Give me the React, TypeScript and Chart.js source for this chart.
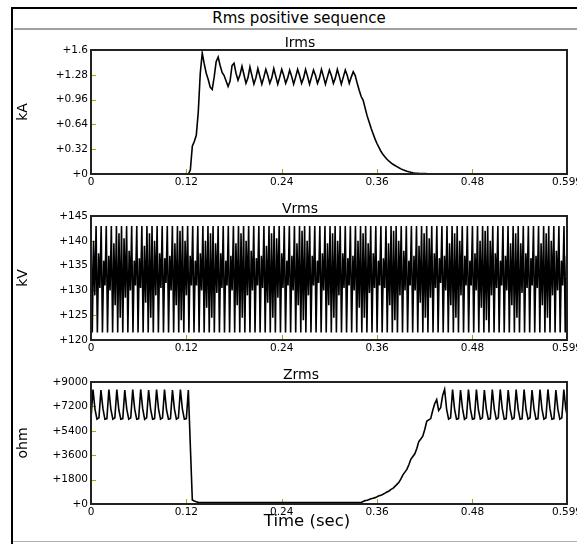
import React, { useEffect, useRef } from "react";
import { Chart, registerables } from "chart.js";

Chart.register(...registerables);

const FONT = "'DejaVu Sans', sans-serif";

// ---- axes ----
const xTickValues = [0, 0.12, 0.24, 0.36, 0.48, 0.599];
const xTickLabels = ["0", "0.12", "0.24", "0.36", "0.48", "0.599"];
const irmsTicks = [0, 0.32, 0.64, 0.96, 1.28, 1.6];
const irmsTickLabels = ["+0", "+0.32", "+0.64", "+0.96", "+1.28", "+1.6"];
const vrmsTicks = [120, 125, 130, 135, 140, 145];
const vrmsTickLabels = ["+120", "+125", "+130", "+135", "+140", "+145"];
const zrmsTicks = [0, 1800, 3600, 5400, 7200, 9000];
const zrmsTickLabels = ["+0", "+1800", "+3600", "+5400", "+7200", "+9000"];

// ---- data (time grid in seconds) ----
const sampleStep = 0.0025;

// Irms, kA, sampled every 2.5 ms from t = 0
const irmsValues = [
  0, 0, 0, 0, 0, 0, 0, 0, 0, 0,
  0, 0, 0, 0, 0, 0, 0, 0, 0, 0,
  0, 0, 0, 0, 0, 0, 0, 0, 0, 0,
  0, 0, 0, 0, 0, 0, 0, 0, 0, 0,
  0, 0, 0, 0, 0, 0, 0, 0, 0, 0,
  0.05, 0.36, 0.42, 0.5, 0.8, 1.3, 1.56, 1.42, 1.3, 1.22,
  1.12, 1.09, 1.25, 1.45, 1.51, 1.4, 1.31, 1.27, 1.2, 1.13,
  1.2, 1.4, 1.43, 1.3, 1.21, 1.28, 1.39, 1.28, 1.17, 1.24,
  1.38, 1.27, 1.16, 1.24, 1.36, 1.26, 1.16, 1.25, 1.35, 1.27,
  1.17, 1.24, 1.36, 1.26, 1.16, 1.25, 1.35, 1.27, 1.17, 1.24,
  1.34, 1.26, 1.16, 1.25, 1.35, 1.27, 1.17, 1.24, 1.35, 1.26,
  1.16, 1.25, 1.34, 1.27, 1.17, 1.24, 1.35, 1.26, 1.16, 1.25,
  1.34, 1.27, 1.17, 1.24, 1.35, 1.26, 1.16, 1.25, 1.34, 1.27,
  1.17, 1.25, 1.32, 1.27, 1.17, 1.08, 1.0, 0.95, 0.85, 0.75,
  0.67, 0.59, 0.52, 0.45, 0.39, 0.34, 0.29, 0.25, 0.22, 0.19,
  0.165, 0.145, 0.125, 0.11, 0.095, 0.08, 0.066, 0.055, 0.045, 0.036,
  0.028, 0.022, 0.017, 0.013, 0.01, 0.008, 0.007, 0.006, 0.005, 0.005,
];

// Zrms, ohm, sampled every 2.5 ms from t = 0
const zrmsValues = [
  6300, 8450, 7000, 6250, 6350, 8400, 7050, 6250, 6300, 8450,
  7000, 6250, 6350, 8450, 6950, 6250, 6300, 8400, 7000, 6250,
  6350, 8450, 7000, 6250, 6300, 8450, 7050, 6250, 6350, 8400,
  7000, 6250, 6300, 8450, 7000, 6250, 6350, 8450, 6950, 6250,
  6300, 8400, 7000, 6250, 6350, 8450, 7000, 6250, 6300, 8400,
  4300, 300, 220, 160, 120, 110, 110, 110, 110, 110,
  110, 110, 110, 110, 110, 110, 110, 110, 110, 110,
  110, 110, 110, 110, 110, 110, 110, 110, 110, 110,
  110, 110, 110, 110, 110, 110, 110, 110, 110, 110,
  110, 110, 110, 110, 110, 110, 110, 110, 110, 110,
  110, 110, 110, 110, 110, 110, 110, 110, 110, 110,
  110, 110, 110, 110, 110, 110, 110, 110, 110, 110,
  110, 110, 110, 110, 110, 110, 110, 110, 110, 110,
  110, 110, 110, 110, 110, 110, 110, 180, 250, 280,
  330, 380, 420, 470, 530, 600, 650, 720, 800, 880,
  960, 1080, 1150, 1300, 1450, 1600, 1850, 2150, 2350, 2550,
  2900, 3300, 3500, 3700, 4100, 4600, 4800, 5000, 5500, 6100,
  6200, 6300, 6900, 7400, 7700, 6900, 7100, 8000, 8450, 7000,
  6250, 6350, 8450, 7000, 6250, 6300, 8400, 7050, 6250, 6350,
  8450, 7000, 6250, 6300, 8450, 6950, 6250, 6350, 8400, 7000,
  6250, 6300, 8450, 7000, 6250, 6350, 8450, 7050, 6250, 6300,
  8400, 7000, 6250, 6350, 8450, 7000, 6250, 6300, 8450, 6950,
  6250, 6350, 8400, 7000, 6250, 6300, 8450, 7000, 6250, 6350,
  8450, 7050, 6250, 6300, 8400, 7000, 6250, 6350, 8450, 7000,
  6300,
];

// Vrms, kV: each cycle swings outer high -> outer low -> inner high -> inner low
const vrmsStep = 0.0016;
const vrmsOuterHigh = 143;
const vrmsOuterLow = 121.5;
const vrmsInnerHigh = [
  140, 137.5, 136, 137, 139.5, 141.5,
  140.5, 138, 136, 136.5, 139, 141.5,
  140, 137.5, 136.5, 137, 139.5, 142,
  140, 137, 136, 137.5, 140, 141.5,
  139.5, 137.5, 136, 137, 139.5, 141.5,
  140, 138, 136.5, 137, 139, 141.5,
  140.5, 137.5, 136, 137, 139.5, 142,
  140, 137, 136, 137.5, 139.5, 141.5,
  140, 137.5, 136.5, 137, 140, 141.5,
  139.5, 137.5, 136, 136.5, 139.5, 142,
  140, 138, 136, 137, 139, 141.5,
  140.5, 137.5, 136.5, 137, 139.5, 141.5,
  140, 137, 136, 137.5, 140, 142,
  140, 137.5, 136, 137, 139.5, 141.5,
  139.5, 137.5, 136.5, 137, 139.5, 141.5,
  140, 138, 136, 137,
];
const vrmsInnerLow = [
  129, 130.5, 131, 130, 127, 124.5,
  128.5, 130, 131, 130.5, 127.5, 124.5,
  129, 130.5, 131.5, 130, 127, 124,
  129, 131, 131, 130, 126.5, 124.5,
  129.5, 130.5, 131, 130, 127, 124.5,
  129, 130, 131, 130.5, 127.5, 124.5,
  128.5, 130.5, 131, 130, 127, 124,
  129, 131, 131.5, 130, 127, 124.5,
  129, 130.5, 131, 130, 126.5, 124.5,
  129.5, 130.5, 131, 130.5, 127, 124,
  129, 130, 131, 130, 127.5, 124.5,
  128.5, 130.5, 131.5, 130, 127, 124.5,
  129, 131, 131, 130, 126.5, 124,
  129, 130.5, 131, 130, 127, 124.5,
  129.5, 130.5, 131, 130.5, 127, 124.5,
  129, 130, 131, 130,
];

const vrmsValues: number[] = [];
vrmsInnerHigh.forEach((h, k) => {
  vrmsValues.push(vrmsOuterHigh, vrmsOuterLow, h, vrmsInnerLow[k]);
});

type PlotSpec = {
  top: number;
  height: number;
  values: number[];
  step: number;
  yMin: number;
  yMax: number;
  yTicks: number[];
  yLabels: string[];
  yTitle: string;
};

const plotFrame = {
  id: "plotFrame",
  beforeDatasetsDraw(chart: any) {
    const { ctx, chartArea: a } = chart;
    const xs = chart.scales.x;
    const ys = chart.scales.y;
    ctx.save();
    ctx.strokeStyle = "#a8a800";
    ctx.lineWidth = 1;
    xs.ticks.forEach((t: any) => {
      if (t.value <= xs.min || t.value >= xs.max) return;
      const p = Math.round(xs.getPixelForValue(t.value)) + 0.5;
      ctx.beginPath();
      ctx.moveTo(p, a.bottom);
      ctx.lineTo(p, a.bottom - 5);
      ctx.stroke();
    });
    ys.ticks.forEach((t: any) => {
      if (t.value <= ys.min || t.value >= ys.max) return;
      const p = Math.round(ys.getPixelForValue(t.value)) + 0.5;
      ctx.beginPath();
      ctx.moveTo(a.left, p);
      ctx.lineTo(a.left + 5, p);
      ctx.stroke();
    });
    ctx.restore();
  },
  afterDatasetsDraw(chart: any) {
    const { ctx, chartArea: a } = chart;
    ctx.save();
    ctx.strokeStyle = "#222";
    ctx.lineWidth = 2;
    ctx.strokeRect(a.left, a.top, a.right - a.left, a.bottom - a.top);
    ctx.restore();
  },
};

function Plot({ spec }: { spec: PlotSpec }) {
  const ref = useRef<HTMLCanvasElement>(null);
  useEffect(() => {
    const canvas = ref.current;
    if (!canvas) return;
    const chart = new Chart(canvas, {
      type: "line",
      data: {
        datasets: [
          {
            data: spec.values.map((v, i) => ({ x: i * spec.step, y: v })),
            borderColor: "#000",
            borderWidth: 1.6,
            pointRadius: 0,
            tension: 0,
            fill: false,
          },
        ],
      },
      options: {
        animation: false,
        responsive: false,
        devicePixelRatio: 1,
        events: [],
        layout: { padding: { left: 0, right: 10, top: 10, bottom: 0 } },
        plugins: {
          legend: { display: false },
          title: { display: false },
          tooltip: { enabled: false },
        },
        scales: {
          x: {
            type: "linear",
            min: 0,
            max: 0.599,
            afterBuildTicks: (s: any) => {
              s.ticks = xTickValues.map((v) => ({ value: v }));
            },
            afterFit: (s: any) => {
              s.height = 21;
              s.paddingLeft = 0;
              s.paddingRight = 0;
            },
            grid: { display: false, drawTicks: false },
            border: { display: false },
            ticks: {
              autoSkip: false,
              maxRotation: 0,
              minRotation: 0,
              padding: 2,
              color: "#000",
              font: { family: FONT, size: 10.5 },
              callback: (_v: any, i: number) => xTickLabels[i],
            },
          },
          y: {
            type: "linear",
            min: spec.yMin,
            max: spec.yMax,
            afterBuildTicks: (s: any) => {
              s.ticks = spec.yTicks.map((v) => ({ value: v }));
            },
            afterFit: (s: any) => {
              s.width = 91;
              s.paddingTop = 0;
              s.paddingBottom = 0;
            },
            grid: { display: false, drawTicks: false },
            border: { display: false },
            ticks: {
              autoSkip: false,
              padding: 3,
              color: "#000",
              font: { family: FONT, size: 10.5 },
              callback: (_v: any, i: number) => spec.yLabels[i],
            },
            title: {
              display: true,
              text: spec.yTitle,
              color: "#000",
              font: { family: FONT, size: 14 },
              padding: { top: 14.6, bottom: 0 },
            },
          },
        },
      },
      plugins: [plotFrame],
    } as any);
    return () => chart.destroy();
  }, [spec]);
  return (
    <canvas
      ref={ref}
      width={577}
      height={spec.height}
      style={{ position: "absolute", left: 0, top: spec.top, width: 577, height: spec.height }}
    />
  );
}

const plots: PlotSpec[] = [
  { top: 40, height: 155, values: irmsValues, step: sampleStep, yMin: 0, yMax: 1.6, yTicks: irmsTicks, yLabels: irmsTickLabels, yTitle: "kA" },
  { top: 206, height: 155, values: vrmsValues, step: vrmsStep, yMin: 120, yMax: 145, yTicks: vrmsTicks, yLabels: vrmsTickLabels, yTitle: "kV" },
  { top: 372, height: 153, values: zrmsValues, step: sampleStep, yMin: 0, yMax: 9000, yTicks: zrmsTicks, yLabels: zrmsTickLabels, yTitle: "ohm" },
];

function Label({ text, x, y, size }: { text: string; x: number; y: number; size: number }) {
  return (
    <div
      style={{
        position: "absolute",
        left: x,
        top: y,
        transform: "translate(-50%, -50%)",
        fontSize: size,
        lineHeight: 1,
        whiteSpace: "nowrap",
        color: "#000",
      }}
    >
      {text}
    </div>
  );
}

export default function App() {
  return (
    <div
      style={{
        position: "absolute",
        left: 0,
        top: 0,
        width: 577,
        height: 544,
        overflow: "hidden",
        background: "#fff",
        fontFamily: FONT,
      }}
    >
      <div
        style={{
          position: "absolute",
          left: 11,
          top: 7,
          width: 566,
          height: 537,
          boxSizing: "border-box",
          borderTop: "2px solid #000",
          borderLeft: "2px solid #000",
        }}
      />
      <div style={{ position: "absolute", left: 14, top: 28, width: 563, height: 2, background: "#a0a0a0" }} />
      <div style={{ position: "absolute", left: 13, top: 541, width: 564, height: 1, background: "#b0b0b0" }} />
      {plots.map((p) => (
        <Plot key={p.yTitle} spec={p} />
      ))}
      <Label text="Rms positive sequence" x={299} y={18} size={15} />
      <Label text="Irms" x={300} y={42} size={14} />
      <Label text="Vrms" x={300} y={208} size={14} />
      <Label text="Zrms" x={301} y={374} size={14} />
      <Label text="Time (sec)" x={307} y={521} size={16.5} />
    </div>
  );
}
